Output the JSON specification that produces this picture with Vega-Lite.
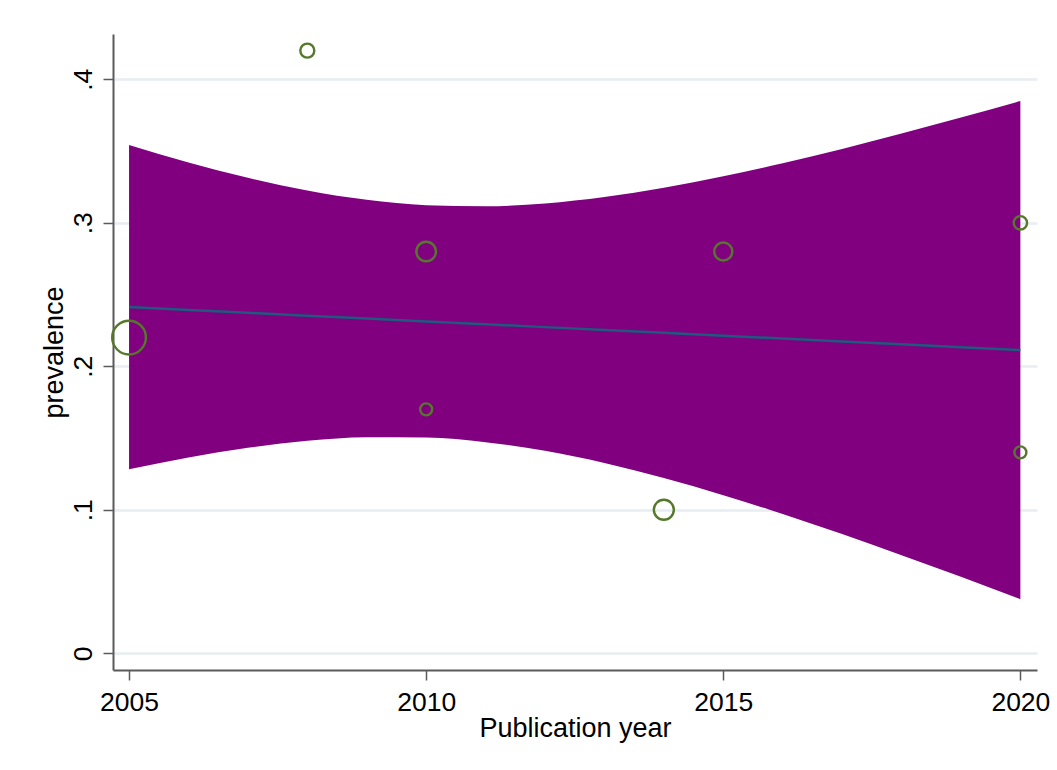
{
  "$schema": "https://vega.github.io/schema/vega-lite/v6.json",
  "width": 924,
  "height": 636,
  "autosize": {"type": "none"},
  "padding": {"left": 113, "top": 34, "right": 20, "bottom": 100},
  "background": "white",
  "config": {
    "font": "Liberation Sans",
    "view": {"stroke": null},
    "axis": {
      "domainColor": "#5a5a5a",
      "domainWidth": 2,
      "tickColor": "#5a5a5a",
      "tickWidth": 1.5,
      "tickSize": 10,
      "labelColor": "black",
      "labelFont": "Liberation Sans",
      "labelFontSize": 26.5,
      "titleFont": "Liberation Sans",
      "titleFontSize": 27,
      "titleFontWeight": "normal",
      "titleColor": "black",
      "gridColor": "#e6eef1",
      "gridWidth": 2.5
    }
  },
  "datasets": {
    "band": [
      {"year": 2005, "fit": 0.2413, "lo": 0.1283, "hi": 0.3543},
      {"year": 2006, "fit": 0.2393, "lo": 0.1365, "hi": 0.3421},
      {"year": 2007, "fit": 0.2373, "lo": 0.1432, "hi": 0.3314},
      {"year": 2008, "fit": 0.2353, "lo": 0.1481, "hi": 0.3225},
      {"year": 2009, "fit": 0.2333, "lo": 0.1506, "hi": 0.3160},
      {"year": 2010, "fit": 0.2313, "lo": 0.1503, "hi": 0.3123},
      {"year": 2011, "fit": 0.2293, "lo": 0.1471, "hi": 0.3115},
      {"year": 2012, "fit": 0.2273, "lo": 0.1411, "hi": 0.3135},
      {"year": 2013, "fit": 0.2253, "lo": 0.1326, "hi": 0.3180},
      {"year": 2014, "fit": 0.2233, "lo": 0.1222, "hi": 0.3244},
      {"year": 2015, "fit": 0.2213, "lo": 0.1102, "hi": 0.3324},
      {"year": 2016, "fit": 0.2193, "lo": 0.0971, "hi": 0.3415},
      {"year": 2017, "fit": 0.2173, "lo": 0.0831, "hi": 0.3515},
      {"year": 2018, "fit": 0.2153, "lo": 0.0684, "hi": 0.3622},
      {"year": 2019, "fit": 0.2133, "lo": 0.0533, "hi": 0.3733},
      {"year": 2020, "fit": 0.2113, "lo": 0.0377, "hi": 0.3849}
    ],
    "studies": [
      {"year": 2005, "prevalence": 0.22, "weight": 113.6},
      {"year": 2008, "prevalence": 0.42, "weight": 19.6},
      {"year": 2010, "prevalence": 0.28, "weight": 38.4},
      {"year": 2010, "prevalence": 0.17, "weight": 14.4},
      {"year": 2014, "prevalence": 0.10, "weight": 40.0},
      {"year": 2015, "prevalence": 0.28, "weight": 32.4},
      {"year": 2020, "prevalence": 0.30, "weight": 18.0},
      {"year": 2020, "prevalence": 0.14, "weight": 14.4}
    ]
  },
  "layer": [
    {
      "data": {"name": "band"},
      "mark": {"type": "area", "color": "#800080", "interpolate": "monotone", "opacity": 1},
      "encoding": {
        "x": {
          "field": "year", "type": "quantitative",
          "scale": {"domain": [2004.73, 2020.28], "nice": false, "zero": false},
          "axis": {
            "values": [2005, 2010, 2015, 2020],
            "format": "d",
            "grid": false,
            "labelPadding": 9,
            "labelBaseline": "top",
            "title": "Publication year",
            "titleBaseline": "alphabetic",
            "titleY": 66
          }
        },
        "y": {
          "field": "hi", "type": "quantitative",
          "scale": {"domain": [-0.01164, 0.43157], "nice": false, "zero": false},
          "axis": {
            "values": [0, 0.1, 0.2, 0.3, 0.4],
            "labelExpr": "datum.value == 0 ? '0' : replace(format(datum.value, '.1f'), '0.', '.')",
            "labelAngle": 270,
            "labelAlign": "center",
            "labelBaseline": "alphabetic",
            "labelPadding": 12,
            "grid": true,
            "title": "prevalence",
            "titleAngle": 270,
            "titleBaseline": "alphabetic",
            "titleX": -51,
            "titleAlign": "center"
          }
        },
        "y2": {"field": "lo"}
      }
    },
    {
      "data": {"name": "band"},
      "mark": {"type": "line", "color": "#1d5a7e", "strokeWidth": 2.5},
      "encoding": {
        "x": {"field": "year", "type": "quantitative"},
        "y": {"field": "fit", "type": "quantitative"}
      }
    },
    {
      "data": {"name": "studies"},
      "mark": {"type": "point", "shape": "circle", "filled": false, "color": "#55782a", "strokeWidth": 2.4, "opacity": 1},
      "encoding": {
        "x": {"field": "year", "type": "quantitative"},
        "y": {"field": "prevalence", "type": "quantitative"},
        "size": {
          "field": "weight", "type": "quantitative",
          "scale": {"type": "linear", "domain": [0, 100], "range": [0, 1000], "zero": true},
          "legend": null
        }
      }
    }
  ]
}
